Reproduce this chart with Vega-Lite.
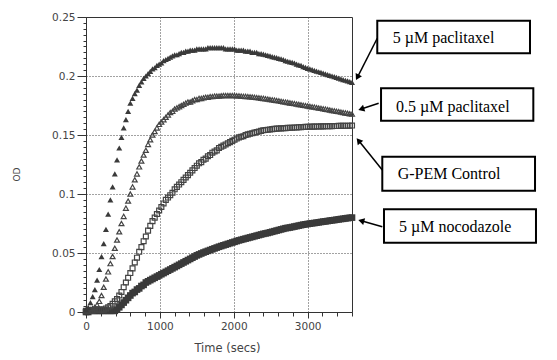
{
"$schema": "https://vega.github.io/schema/vega-lite/v6.json",
"width": 266, "height": 295,
"autosize": {"type": "none"},
"padding": {"left": 86, "top": 17, "right": 205, "bottom": 48},
"background": "white",
"config": {
  "view": {"stroke": "#333", "strokeWidth": 1},
  "axis": {"labelFont": "DejaVu Sans", "labelFontSize": 10.5, "labelColor": "#444", "titleFont": "DejaVu Sans", "titleColor": "#444", "titleFontWeight": "normal", "domainColor": "#333", "tickColor": "#333", "labelFlush": false, "labelOverlap": false}
},
"datasets": {
"curves": [
{"t":0,"a":0.002,"b":0.001,"c":0.001,"d":0.0},
{"t":30,"a":0.004,"b":0.001,"c":0.001,"d":0.0},
{"t":60,"a":0.008,"b":0.002,"c":0.001,"d":0.001},
{"t":90,"a":0.013,"b":0.003,"c":0.001,"d":0.001},
{"t":120,"a":0.019,"b":0.004,"c":0.002,"d":0.001},
{"t":150,"a":0.027,"b":0.006,"c":0.002,"d":0.001},
{"t":180,"a":0.036,"b":0.009,"c":0.002,"d":0.001},
{"t":210,"a":0.047,"b":0.014,"c":0.002,"d":0.001},
{"t":240,"a":0.058,"b":0.021,"c":0.002,"d":0.001},
{"t":270,"a":0.070,"b":0.028,"c":0.003,"d":0.001},
{"t":300,"a":0.083,"b":0.034,"c":0.004,"d":0.001},
{"t":330,"a":0.095,"b":0.041,"c":0.005,"d":0.001},
{"t":360,"a":0.106,"b":0.047,"c":0.007,"d":0.001},
{"t":390,"a":0.117,"b":0.054,"c":0.009,"d":0.001},
{"t":420,"a":0.129,"b":0.061,"c":0.011,"d":0.002},
{"t":450,"a":0.139,"b":0.068,"c":0.014,"d":0.004},
{"t":480,"a":0.148,"b":0.075,"c":0.017,"d":0.006},
{"t":510,"a":0.156,"b":0.081,"c":0.021,"d":0.008},
{"t":540,"a":0.163,"b":0.088,"c":0.025,"d":0.010},
{"t":570,"a":0.170,"b":0.094,"c":0.029,"d":0.012},
{"t":600,"a":0.177,"b":0.100,"c":0.033,"d":0.014},
{"t":630,"a":0.181,"b":0.106,"c":0.037,"d":0.016},
{"t":660,"a":0.185,"b":0.112,"c":0.042,"d":0.017},
{"t":690,"a":0.188,"b":0.117,"c":0.046,"d":0.019},
{"t":720,"a":0.192,"b":0.123,"c":0.051,"d":0.020},
{"t":750,"a":0.195,"b":0.128,"c":0.055,"d":0.022},
{"t":780,"a":0.198,"b":0.133,"c":0.060,"d":0.023},
{"t":810,"a":0.200,"b":0.137,"c":0.064,"d":0.025},
{"t":840,"a":0.202,"b":0.142,"c":0.069,"d":0.026},
{"t":870,"a":0.204,"b":0.146,"c":0.073,"d":0.027},
{"t":900,"a":0.206,"b":0.150,"c":0.077,"d":0.028},
{"t":930,"a":0.207,"b":0.153,"c":0.080,"d":0.029},
{"t":960,"a":0.209,"b":0.156,"c":0.083,"d":0.030},
{"t":990,"a":0.210,"b":0.159,"c":0.086,"d":0.031},
{"t":1020,"a":0.211,"b":0.161,"c":0.089,"d":0.032},
{"t":1050,"a":0.213,"b":0.163,"c":0.092,"d":0.033},
{"t":1080,"a":0.214,"b":0.165,"c":0.095,"d":0.034},
{"t":1110,"a":0.215,"b":0.167,"c":0.097,"d":0.035},
{"t":1140,"a":0.216,"b":0.169,"c":0.099,"d":0.036},
{"t":1170,"a":0.217,"b":0.170,"c":0.101,"d":0.037},
{"t":1200,"a":0.218,"b":0.172,"c":0.104,"d":0.038},
{"t":1230,"a":0.218,"b":0.173,"c":0.106,"d":0.039},
{"t":1260,"a":0.219,"b":0.174,"c":0.108,"d":0.040},
{"t":1290,"a":0.220,"b":0.175,"c":0.110,"d":0.041},
{"t":1320,"a":0.220,"b":0.176,"c":0.112,"d":0.042},
{"t":1350,"a":0.221,"b":0.177,"c":0.114,"d":0.043},
{"t":1380,"a":0.221,"b":0.178,"c":0.116,"d":0.044},
{"t":1410,"a":0.222,"b":0.178,"c":0.118,"d":0.045},
{"t":1440,"a":0.222,"b":0.179,"c":0.120,"d":0.046},
{"t":1470,"a":0.222,"b":0.180,"c":0.122,"d":0.047},
{"t":1500,"a":0.223,"b":0.180,"c":0.124,"d":0.048},
{"t":1530,"a":0.223,"b":0.181,"c":0.126,"d":0.0488},
{"t":1560,"a":0.223,"b":0.181,"c":0.127,"d":0.0496},
{"t":1590,"a":0.223,"b":0.1815,"c":0.129,"d":0.0504},
{"t":1620,"a":0.223,"b":0.182,"c":0.130,"d":0.0511},
{"t":1650,"a":0.224,"b":0.182,"c":0.132,"d":0.0518},
{"t":1680,"a":0.224,"b":0.1825,"c":0.133,"d":0.0525},
{"t":1710,"a":0.224,"b":0.1825,"c":0.135,"d":0.0532},
{"t":1740,"a":0.224,"b":0.183,"c":0.136,"d":0.0539},
{"t":1770,"a":0.224,"b":0.183,"c":0.137,"d":0.0546},
{"t":1800,"a":0.224,"b":0.183,"c":0.139,"d":0.0553},
{"t":1830,"a":0.224,"b":0.1833,"c":0.140,"d":0.0559},
{"t":1860,"a":0.224,"b":0.1835,"c":0.141,"d":0.0565},
{"t":1890,"a":0.223,"b":0.1835,"c":0.142,"d":0.0571},
{"t":1920,"a":0.223,"b":0.1835,"c":0.143,"d":0.0577},
{"t":1950,"a":0.223,"b":0.1835,"c":0.144,"d":0.0583},
{"t":1980,"a":0.223,"b":0.1835,"c":0.145,"d":0.0589},
{"t":2010,"a":0.223,"b":0.1835,"c":0.146,"d":0.0595},
{"t":2040,"a":0.222,"b":0.1833,"c":0.147,"d":0.0601},
{"t":2070,"a":0.222,"b":0.1832,"c":0.148,"d":0.0607},
{"t":2100,"a":0.222,"b":0.183,"c":0.1485,"d":0.0612},
{"t":2130,"a":0.222,"b":0.1828,"c":0.149,"d":0.0617},
{"t":2160,"a":0.221,"b":0.1827,"c":0.150,"d":0.0622},
{"t":2190,"a":0.221,"b":0.1825,"c":0.1505,"d":0.0627},
{"t":2220,"a":0.221,"b":0.1823,"c":0.151,"d":0.0632},
{"t":2250,"a":0.220,"b":0.1822,"c":0.1515,"d":0.0637},
{"t":2280,"a":0.220,"b":0.182,"c":0.152,"d":0.0642},
{"t":2310,"a":0.220,"b":0.1817,"c":0.1525,"d":0.0647},
{"t":2340,"a":0.219,"b":0.1815,"c":0.153,"d":0.0652},
{"t":2370,"a":0.219,"b":0.1812,"c":0.1535,"d":0.0657},
{"t":2400,"a":0.2185,"b":0.181,"c":0.154,"d":0.0662},
{"t":2430,"a":0.218,"b":0.1807,"c":0.1542,"d":0.0666},
{"t":2460,"a":0.2175,"b":0.1804,"c":0.1545,"d":0.067},
{"t":2490,"a":0.217,"b":0.1801,"c":0.1547,"d":0.0675},
{"t":2520,"a":0.2165,"b":0.1798,"c":0.155,"d":0.068},
{"t":2550,"a":0.216,"b":0.1795,"c":0.1552,"d":0.0685},
{"t":2580,"a":0.2155,"b":0.1792,"c":0.1554,"d":0.069},
{"t":2610,"a":0.215,"b":0.1789,"c":0.1555,"d":0.0695},
{"t":2640,"a":0.2145,"b":0.1785,"c":0.1556,"d":0.070},
{"t":2670,"a":0.214,"b":0.1782,"c":0.1557,"d":0.0705},
{"t":2700,"a":0.213,"b":0.1779,"c":0.1558,"d":0.071},
{"t":2730,"a":0.2125,"b":0.1776,"c":0.156,"d":0.0713},
{"t":2760,"a":0.212,"b":0.1772,"c":0.1561,"d":0.0716},
{"t":2790,"a":0.2115,"b":0.1769,"c":0.1562,"d":0.072},
{"t":2820,"a":0.211,"b":0.1766,"c":0.1563,"d":0.0724},
{"t":2850,"a":0.210,"b":0.1762,"c":0.1564,"d":0.0728},
{"t":2880,"a":0.2095,"b":0.1759,"c":0.1566,"d":0.0732},
{"t":2910,"a":0.209,"b":0.1756,"c":0.1567,"d":0.0736},
{"t":2940,"a":0.208,"b":0.1752,"c":0.1568,"d":0.074},
{"t":2970,"a":0.2073,"b":0.1749,"c":0.1569,"d":0.0743},
{"t":3000,"a":0.2065,"b":0.1746,"c":0.157,"d":0.0746},
{"t":3030,"a":0.206,"b":0.1742,"c":0.157,"d":0.0749},
{"t":3060,"a":0.2054,"b":0.1739,"c":0.1571,"d":0.0752},
{"t":3090,"a":0.2048,"b":0.1736,"c":0.1571,"d":0.0754},
{"t":3120,"a":0.2042,"b":0.1732,"c":0.1572,"d":0.0757},
{"t":3150,"a":0.2036,"b":0.1729,"c":0.1572,"d":0.076},
{"t":3180,"a":0.203,"b":0.1726,"c":0.1573,"d":0.0763},
{"t":3210,"a":0.2024,"b":0.1722,"c":0.1573,"d":0.0766},
{"t":3240,"a":0.2018,"b":0.1719,"c":0.1574,"d":0.0768},
{"t":3270,"a":0.2012,"b":0.1715,"c":0.1574,"d":0.0771},
{"t":3300,"a":0.2006,"b":0.1712,"c":0.1575,"d":0.0774},
{"t":3330,"a":0.2,"b":0.1708,"c":0.1575,"d":0.0777},
{"t":3360,"a":0.1994,"b":0.1705,"c":0.1576,"d":0.0779},
{"t":3390,"a":0.1988,"b":0.1701,"c":0.1576,"d":0.0782},
{"t":3420,"a":0.1982,"b":0.1698,"c":0.1577,"d":0.0785},
{"t":3450,"a":0.1976,"b":0.1694,"c":0.1577,"d":0.0788},
{"t":3480,"a":0.197,"b":0.1691,"c":0.1578,"d":0.079},
{"t":3510,"a":0.1964,"b":0.1687,"c":0.1578,"d":0.0793},
{"t":3540,"a":0.1958,"b":0.1684,"c":0.1579,"d":0.0796},
{"t":3570,"a":0.1952,"b":0.168,"c":0.1579,"d":0.0798},
{"t":3600,"a":0.1946,"b":0.1677,"c":0.158,"d":0.08}
],
"boxes": [
{"x1":3942,"x2":6009,"y1":0.2469,"y2":0.2192},
{"x1":3993,"x2":6054,"y1":0.1896,"y2":0.1621},
{"x1":4010,"x2":6077,"y1":0.1316,"y2":0.1028},
{"x1":4033,"x2":6090,"y1":0.0870,"y2":0.0587}
],
"labels": [
{"t":4151,"o":0.2320,"label":"5 µM paclitaxel"},
{"t":4196,"o":0.1740,"label":"0.5 µM paclitaxel"},
{"t":4218,"o":0.1169,"label":"G-PEM Control"},
{"t":4236,"o":0.0723,"label":"5 µM nocodazole"}
],
"arrows": [
{"x1":3942,"y1":0.2320,"x2":3673,"y2":0.1989,"ang":207},
{"x1":3961,"y1":0.1769,"x2":3725,"y2":0.1720,"ang":252},
{"x1":4010,"y1":0.1203,"x2":3689,"y2":0.1453,"ang":321},
{"x1":4010,"y1":0.0723,"x2":3725,"y2":0.0773,"ang":286}
]
},
"layer": [
{
  "data": {"name": "curves"},
  "mark": {"type": "point", "shape": "square", "filled": true, "color": "#3a3a3a", "size": 44, "opacity": 1},
  "encoding": {
    "x": {"field": "t", "type": "quantitative", "scale": {"domain": [0, 3600], "nice": false, "zero": false},
      "axis": {"orient": "bottom", "tickCount": 200,
        "values": [0,200,400,600,800,1000,1200,1400,1600,1800,2000,2200,2400,2600,2800,3000,3200,3400,3600],
        "labelExpr": "datum.value % 1000 === 0 ? format(datum.value, 'd') : ''",
        "grid": true, "gridDash": [1, 2], "gridColor": "#444",
        "gridOpacity": {"condition": {"test": "datum.value % 1000 === 0", "value": 1}, "value": 0},
        "tickSize": {"condition": {"test": "datum.value % 1000 === 0", "value": 6}, "value": 4},
        "labelPadding": 3, "title": "Time (secs)", "titleFontSize": 11.5, "titlePadding": 11, "titleX": 141}},
    "y": {"field": "d", "type": "quantitative", "scale": {"domain": [0, 0.25], "nice": false},
      "axis": {"orient": "left", "tickCount": 200,
        "values": [0,0.005,0.01,0.015,0.02,0.025,0.03,0.035,0.04,0.045,0.05,0.055,0.06,0.065,0.07,0.075,0.08,0.085,0.09,0.095,0.1,0.105,0.11,0.115,0.12,0.125,0.13,0.135,0.14,0.145,0.15,0.155,0.16,0.165,0.17,0.175,0.18,0.185,0.19,0.195,0.2,0.205,0.21,0.215,0.22,0.225,0.23,0.235,0.24,0.245,0.25],
        "labelExpr": "indexof([0,0.05,0.1,0.15,0.2,0.25], datum.value) >= 0 ? format(datum.value, '~g') : ''",
        "grid": true, "gridDash": [1, 2], "gridColor": "#444",
        "gridOpacity": {"condition": {"test": "indexof([0.05,0.1,0.15,0.2], datum.value) >= 0", "value": 1}, "value": 0},
        "tickSize": {"condition": {"test": "indexof([0,0.05,0.1,0.15,0.2,0.25], datum.value) >= 0", "value": 9}, "value": 3},
        "labelPadding": 2, "title": "OD", "titleFontSize": 9, "titleX": -70, "titleY": 157, "titleBaseline": "middle"}}
  }
},
{
  "data": {"name": "curves"},
  "mark": {"type": "point", "shape": "square", "filled": false, "stroke": "#444", "strokeWidth": 1.2, "size": 24, "opacity": 1},
  "encoding": {
    "x": {"field": "t", "type": "quantitative"},
    "y": {"field": "c", "type": "quantitative"}
  }
},
{
  "data": {"name": "curves"},
  "mark": {"type": "point", "shape": "triangle-up", "filled": false, "stroke": "#444", "strokeWidth": 1.2, "size": 24, "opacity": 1},
  "encoding": {
    "x": {"field": "t", "type": "quantitative"},
    "y": {"field": "b", "type": "quantitative"}
  }
},
{
  "data": {"name": "curves"},
  "mark": {"type": "point", "shape": "triangle-up", "filled": true, "color": "#3a3a3a", "size": 36, "opacity": 1},
  "encoding": {
    "x": {"field": "t", "type": "quantitative"},
    "y": {"field": "a", "type": "quantitative"}
  }
},
{
  "data": {"name": "boxes"},
  "mark": {"type": "rect", "fill": "white", "stroke": "black", "strokeWidth": 2},
  "encoding": {
    "x": {"field": "x1", "type": "quantitative"},
    "x2": {"field": "x2"},
    "y": {"field": "y1", "type": "quantitative"},
    "y2": {"field": "y2"}
  }
},
{
  "data": {"name": "labels"},
  "mark": {"type": "text", "font": "Liberation Serif", "fontSize": 16, "align": "left", "baseline": "middle", "color": "black"},
  "encoding": {
    "x": {"field": "t", "type": "quantitative"},
    "y": {"field": "o", "type": "quantitative"},
    "text": {"field": "label"}
  }
},
{
  "data": {"name": "arrows"},
  "mark": {"type": "rule", "color": "black", "strokeWidth": 1.5},
  "encoding": {
    "x": {"field": "x1", "type": "quantitative"},
    "x2": {"field": "x2"},
    "y": {"field": "y1", "type": "quantitative"},
    "y2": {"field": "y2"}
  }
},
{
  "data": {"name": "arrows"},
  "mark": {"type": "point", "shape": "triangle-up", "filled": true, "color": "black", "size": 50, "opacity": 1},
  "encoding": {
    "x": {"field": "x2", "type": "quantitative"},
    "y": {"field": "y2", "type": "quantitative"},
    "angle": {"field": "ang", "type": "quantitative", "scale": null}
  }
}
]
}
